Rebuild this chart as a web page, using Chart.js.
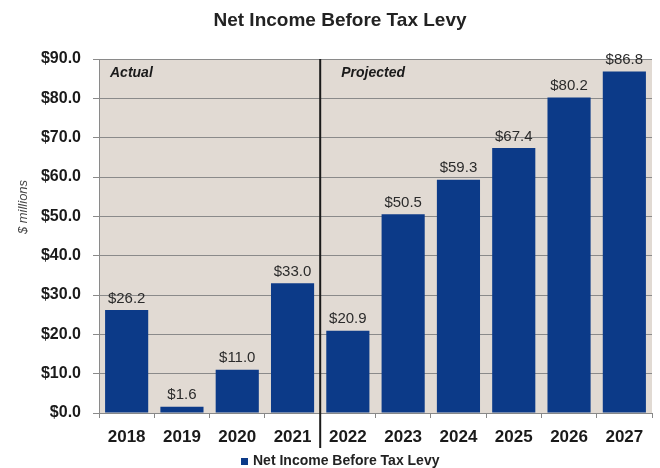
<!DOCTYPE html>
<html>
<head>
<meta charset="utf-8">
<script src="https://cdn.jsdelivr.net/npm/chart.js@4/dist/chart.umd.min.js"></script>
<style>
  html, body { margin: 0; padding: 0; background: #fff; }
  #wrap { width: 660px; height: 468px; }
</style>
</head>
<body>
<div id="wrap"><canvas id="chart"></canvas></div>
<script>
const years = ["2018", "2019", "2020", "2021", "2022", "2023", "2024", "2025", "2026", "2027"];
const netIncome = [26.2, 1.6, 11.0, 33.0, 20.9, 50.5, 59.3, 67.4, 80.2, 86.8];
const periodLabels = ["Actual", "Projected"];
const firstProjected = 4; // index of 2022
const chartTitle = "Net Income Before Tax Levy";
const seriesName = "Net Income Before Tax Levy";
const yAxisTitle = "$ millions";

const fontFamily = "'Liberation Sans', Arial, sans-serif";
const barColor = '#0c3a88';

// fond beige, séparateur, étiquettes, titre et légende
const decorPlugin = {
    id: 'decor',
    beforeDraw(chart) {
        const { ctx, chartArea } = chart;
        ctx.save();
        ctx.fillStyle = '#e1dad3';
        ctx.fillRect(chartArea.left, chartArea.top, chartArea.right - chartArea.left, chartArea.bottom - chartArea.top);
        ctx.restore();
    },
    afterDatasetsDraw(chart) {
        const { ctx, chartArea, scales } = chart;
        const x = scales.x;
        const splitX = (x.getPixelForValue(firstProjected - 1) + x.getPixelForValue(firstProjected)) / 2;
        ctx.save();
        ctx.strokeStyle = '#1a1a1a';
        ctx.lineWidth = 2;
        ctx.beginPath();
        ctx.moveTo(splitX, chartArea.top);
        ctx.lineTo(splitX, chartArea.bottom + 35);
        ctx.stroke();

        ctx.fillStyle = '#1a1a1a';
        ctx.font = "italic bold 14px " + fontFamily;
        ctx.textBaseline = 'middle';
        ctx.textAlign = 'left';
        ctx.fillText(periodLabels[0], chartArea.left + 11, chartArea.top + 14);
        ctx.fillText(periodLabels[1], splitX + 21, chartArea.top + 14);

        // titre
        ctx.fillStyle = '#222';
        ctx.textAlign = 'center';
        ctx.font = "bold 19px " + fontFamily;
        ctx.fillText(chartTitle, 340, 21);

        // légende
        ctx.font = "bold 14px " + fontFamily;
        ctx.textAlign = 'left';
        ctx.fillStyle = barColor;
        ctx.fillRect(241, 458, 7, 7);
        ctx.fillStyle = '#222';
        ctx.fillText(seriesName, 253, 461);

        // titre de l'axe y
        ctx.save();
        ctx.translate(23, 207);
        ctx.rotate(-Math.PI / 2);
        ctx.textAlign = 'center';
        ctx.font = "italic 13px " + fontFamily;
        ctx.fillStyle = '#444';
        ctx.fillText(yAxisTitle, 0, 0);
        ctx.restore();

        // valeurs au-dessus des barres
        ctx.font = "15px " + fontFamily;
        ctx.fillStyle = '#2b2b2b';
        ctx.textAlign = 'center';
        ctx.textBaseline = 'bottom';
        chart.getDatasetMeta(0).data.forEach((bar, i) => {
            ctx.fillText('$' + netIncome[i].toFixed(1), bar.x, bar.y - 4);
        });
        ctx.restore();
    }
};

new Chart(document.getElementById('chart'), {
    type: 'bar',
    data: {
        labels: years,
        datasets: [{
            label: seriesName,
            data: netIncome,
            backgroundColor: barColor,
            borderWidth: 0,
            barPercentage: 0.78,
            categoryPercentage: 1.0
        }]
    },
    options: {
        responsive: true,
        maintainAspectRatio: false,
        animation: false,
        layout: { padding: { left: 0, right: 8, top: 59, bottom: 19 } },
        plugins: {
            title: { display: false },
            legend: { display: false },
            tooltip: { enabled: false }
        },
        scales: {
            x: {
                grid: { display: true, drawOnChartArea: false, color: '#888', tickLength: 5, offset: true },
                border: { color: '#888' },
                ticks: { color: '#1a1a1a', font: { family: fontFamily, size: 17, weight: 'bold' }, padding: 9 },
                afterFit(scale) { scale.height = 36; }
            },
            y: {
                min: 0,
                max: 90,
                ticks: {
                    stepSize: 10,
                    color: '#1a1a1a',
                    font: { family: fontFamily, size: 16, weight: 'bold' },
                    padding: 12,
                    callback: v => '$' + v.toFixed(1)
                },
                grid: { color: '#8a8a8a', tickLength: 6 },
                border: { color: '#8a8a8a' },
                afterFit(scale) { scale.width = 99; }
            }
        }
    },
    plugins: [decorPlugin]
});
</script>
</body>
</html>
